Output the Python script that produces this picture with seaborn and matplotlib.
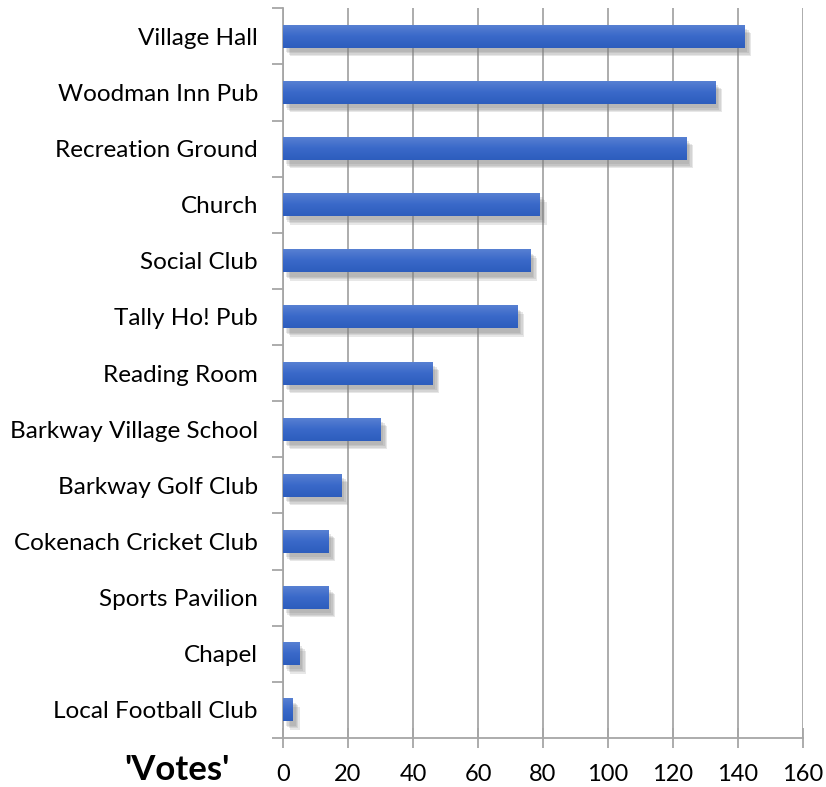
import numpy as np
import pandas as pd
import matplotlib
matplotlib.use("Agg")
import matplotlib.pyplot as plt
import matplotlib.patheffects as pe
from matplotlib.colors import LinearSegmentedColormap
import seaborn as sns

venues = ["Village Hall", "Woodman Inn Pub", "Recreation Ground", "Church",
          "Social Club", "Tally Ho! Pub", "Reading Room", "Barkway Village School",
          "Barkway Golf Club", "Cokenach Cricket Club", "Sports Pavilion",
          "Chapel", "Local Football Club"]
votes = [142, 133, 124, 79, 76, 72, 46, 30, 18, 14, 14, 5, 3]
xticks = [0, 20, 40, 60, 80, 100, 120, 140, 160]

df = pd.DataFrame({"venue": venues, "votes": votes})

sns.set_style("white")
plt.rcParams["font.family"] = ["Lato", "DejaVu Sans"]
plt.rcParams["text.color"] = "black"
plt.rcParams["xtick.labelcolor"] = "black"
plt.rcParams["ytick.labelcolor"] = "black"

fig = plt.figure(figsize=(8.26, 7.87), dpi=100)
ax = fig.add_axes([0.3426, 0.0623, 0.6296, 0.9272])

sns.barplot(data=df, x="votes", y="venue", orient="h", color="#3d6bc8",
            width=0.41, saturation=1, linewidth=0, ax=ax, zorder=3)

# soft drop shadow + vertical gradient on each bar
grad = LinearSegmentedColormap.from_list("g", ["#5a82d3", "#3a69c9", "#2d5dbd"])
shadow = [pe.SimplePatchShadow(offset=(o, -o - 1), shadow_rgbFace="#7f7f7f", alpha=0.18)
          for o in (5, 4, 3, 2)]
for bar in list(ax.patches):
    bar.set_path_effects(shadow + [pe.Normal()])
    x0, y0 = bar.get_x(), bar.get_y()
    w, h = bar.get_width(), bar.get_height()
    im = ax.imshow(np.linspace(0, 1, 50).reshape(-1, 1), cmap=grad, aspect="auto",
                   extent=(x0, x0 + w, y0, y0 + h), origin="lower", zorder=4)
    im.set_clip_path(bar)

ax.set_xlim(0, 160)
ax.set_ylim(len(venues) - 0.5, -0.5)
ax.set_xticks(xticks)
ax.set_xticklabels([str(t) for t in xticks], fontsize=17)
ax.xaxis.grid(True, color="#a6a6a6", linewidth=1.3, zorder=0)
ax.set_axisbelow(True)

# category labels, ticks on the category boundaries
ax.set_yticks(range(len(venues)))
ax.set_yticklabels(venues, fontsize=17.5)
ax.tick_params(axis="y", which="major", left=False, length=0, pad=18)
ax.set_yticks(np.arange(-0.5, len(venues), 1), minor=True)
ax.tick_params(axis="y", which="minor", left=True, length=8, width=1.3, color="#a6a6a6", direction="out")
ax.tick_params(axis="x", bottom=True, length=14, width=1.3, color="#a6a6a6", direction="inout", pad=12)

for side in ["top", "right"]:
    ax.spines[side].set_visible(False)
for side in ["left", "bottom"]:
    ax.spines[side].set_color("#a6a6a6")
    ax.spines[side].set_linewidth(1.3)

ax.set_xlabel("")
ax.set_ylabel("")
fig.text(0.214, 0.021, "'Votes'", fontsize=25, fontweight="bold", ha="center", va="center",
         color="black")

fig.savefig("out.png", dpi=100)
